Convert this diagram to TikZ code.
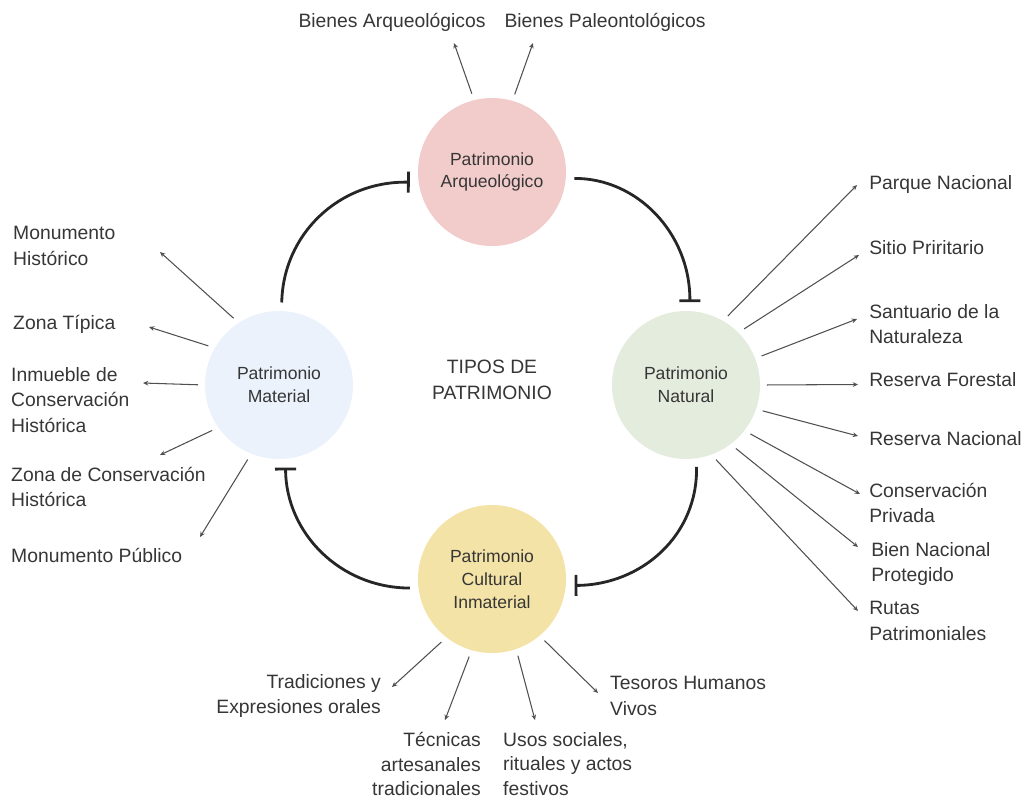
\documentclass[tikz,border=0pt]{standalone}
\usepackage{fontspec}
\setmainfont{Liberation Sans}
\usetikzlibrary{arrows.meta}

\definecolor{arqpink}{HTML}{F2CBCB}
\definecolor{natgreen}{HTML}{E4ECDE}
\definecolor{matblue}{HTML}{EBF2FB}
\definecolor{culyellow}{HTML}{F4E3A6}
\definecolor{txtgray}{HTML}{363636}
\definecolor{spokegray}{HTML}{505050}

\tikzset{
  tipo/.style={circle, minimum size=4.44cm, inner sep=0pt, align=center, text=txtgray, font=\fontsize{15}{19.5}\selectfont},
  leaf/.style={text=txtgray, inner sep=0pt, font=\fontsize{16.5}{21.8}\selectfont},
  spoke/.style={spokegray, line width=0.9pt, shorten <=0.2cm, -{Stealth[length=4.5pt,width=4pt]}},
  ciclo/.style={line width=2.4pt, black!85, -{Bar[width=18pt]}, shorten <=0.25cm, shorten >=0.26cm},
}

\begin{document}
\begin{tikzpicture}[x=0.03cm, y=-0.03cm]
	\useasboundingbox (0,0) rectangle (1021,800);
	% tipos de patrimonio
	\node[tipo, fill=arqpink] (arq) at (492,172) {Patrimonio\\Arqueológico};
	\node[tipo, fill=natgreen] (nat) at (686,385) {Patrimonio\\Natural};
	\node[tipo, fill=matblue] (mat) at (279,385) {Patrimonio\\Material};
	\node[tipo, fill=culyellow] (cul) at (492,579) {Patrimonio\\Cultural\\Inmaterial};
	\node[leaf, align=center] (titulo) at (492,380) {TIPOS DE\\PATRIMONIO};

	% ciclo
	\draw[ciclo] (mat.88) .. controls (283,235) and (338,181) .. (arq.188);
	\draw[ciclo] (arq.-5) .. controls (637,178) and (690,233) .. (nat.87);
	\draw[ciclo] (nat.-82) .. controls (698,535) and (642,585) .. (cul.-5);
	\draw[ciclo] (cul.187) .. controls (340,588) and (286,533) .. (mat.-85);

	% arqueologico
	\node[leaf] (ba) at (392,22) {Bienes Arqueológicos};
	\node[leaf] (bp) at (605,22) {Bienes Paleontológicos};
	\coordinate (e-ba) at (454,43);
	\coordinate (e-bp) at (533,43);
	\draw[spoke] (arq.104) -- (e-ba);
	\draw[spoke] (arq.74) -- (e-bp);

	% natural
	\node[leaf, anchor=west] (pq) at (869,184) {Parque Nacional};
	\node[leaf, anchor=west] (sp) at (869,248) {Sitio Priritario};
	\node[leaf, anchor=west, align=left] (sn) at (869,324) {Santuario de la\\Naturaleza};
	\node[leaf, anchor=west] (rf) at (869,380) {Reserva Forestal};
	\node[leaf, anchor=west] (rn) at (869,439) {Reserva Nacional};
	\node[leaf, anchor=west, align=left] (cp) at (869,503) {Conservación\\Privada};
	\node[leaf, anchor=west, align=left] (bn) at (871,564) {Bien Nacional\\Protegido};
	\node[leaf, anchor=west, align=left] (rp) at (869,621) {Rutas\\Patrimoniales};
	\coordinate (e-pq) at (857,185);
	\coordinate (e-sp) at (859,255);
	\coordinate (e-sn) at (857,319);
	\coordinate (e-rf) at (858,384.5);
	\coordinate (e-rn) at (858,436);
	\coordinate (e-cp) at (860,494);
	\coordinate (e-bn) at (858,547);
	\coordinate (e-rp) at (858,611);
	\draw[spoke] (nat.60) -- (e-pq);
	\draw[spoke] (nat.45) -- (e-sp);
	\draw[spoke] (nat.21) -- (e-sn);
	\draw[spoke] (nat.0) -- (e-rf);
	\draw[spoke] (nat.-19) -- (e-rn);
	\draw[spoke] (nat.-38) -- (e-cp);
	\draw[spoke] (nat.-53) -- (e-bn);
	\draw[spoke] (nat.-70) -- (e-rp);

	% material
	\node[leaf, anchor=west, align=left] (mh) at (13,246) {Monumento\\Histórico};
	\node[leaf, anchor=west] (zt) at (13,324) {Zona Típica};
	\node[leaf, anchor=west, align=left] (ic) at (11,400) {Inmueble de\\Conservación\\Histórica};
	\node[leaf, anchor=west, align=left] (zc) at (11,487) {Zona de Conservación\\Histórica};
	\node[leaf, anchor=west] (mp) at (11,555) {Monumento Público};
	\coordinate (e-mh) at (160,252);
	\coordinate (e-zt) at (149,327);
	\coordinate (e-ic) at (143,383);
	\coordinate (e-zc) at (160,455);
	\coordinate (e-mp) at (200,537);
	\draw[spoke] (mat.123) -- (e-mh);
	\draw[spoke] (mat.150) -- (e-zt);
	\draw[spoke] (mat.180) -- (e-ic);
	\draw[spoke] (mat.215) -- (e-zc);
	\draw[spoke] (mat.248) -- (e-mp);

	% cultural inmaterial
	\node[leaf, anchor=east, align=right] (te) at (381,696) {Tradiciones y\\Expresiones orales};
	\node[leaf, anchor=east, align=right, font=\fontsize{16.5}{20.8}\selectfont] (tc) at (481,764) {Técnicas\\artesanales\\tradicionales};
	\node[leaf, anchor=west, align=left, font=\fontsize{16.5}{20.8}\selectfont] (us) at (503,764) {Usos sociales,\\rituales y actos\\festivos};
	\node[leaf, anchor=west, align=left] (th) at (610,696) {Tesoros Humanos\\Vivos};
	\coordinate (e-te) at (392,687);
	\coordinate (e-tc) at (445,720);
	\coordinate (e-us) at (535,720);
	\coordinate (e-th) at (598,693);
	\draw[spoke] (cul.232) -- (e-te);
	\draw[spoke] (cul.254) -- (e-tc);
	\draw[spoke] (cul.289) -- (e-us);
	\draw[spoke] (cul.310) -- (e-th);
\end{tikzpicture}
\end{document}
